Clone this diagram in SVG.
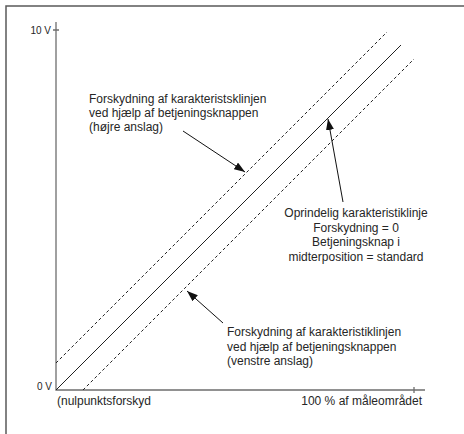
<svg xmlns="http://www.w3.org/2000/svg" width="464" height="434" viewBox="0 0 464 434">
<defs>
<style>
text{font-family:"Liberation Sans",Arial,sans-serif;font-size:12px;fill:#262626}
.lbl{font-size:10px}
.axis{stroke:#6e6e6e;stroke-width:1.3;fill:none}
.dash{stroke:#222;stroke-width:1;stroke-dasharray:3 2.5;fill:none}
.solid{stroke:#222;stroke-width:1;fill:none}
.arr{stroke:#111;stroke-width:1;fill:none;marker-end:url(#ah)}
</style>
<marker id="ah" markerUnits="userSpaceOnUse" markerWidth="12" markerHeight="8" refX="11" refY="4" orient="auto">
<path d="M0,0 L11,4 L0,8 Z" fill="#111"/>
</marker>
</defs>
<rect x="6" y="6" width="500" height="480" fill="none" stroke="#5a5a5a" stroke-width="1.5"/>
<g id="axes">
<path class="axis" d="M56,22 V390 H425"/>
<path class="axis" d="M53,30 H59 M414,387 V393"/>
<text class="lbl" x="51" y="34" text-anchor="end">10 V</text>
<text class="lbl" x="52" y="390" text-anchor="end">0 V</text>
<text x="57" y="405">(nulpunktsforskyd</text>
<text x="422" y="405" text-anchor="end">100 % af måleområdet</text>
</g>
<g id="lines">
<path class="dash" d="M56,363 L387,32"/>
<path class="solid" d="M56,390 L401,45"/>
<path class="dash" d="M83,390 L414,59"/>
</g>
<g id="connectors">
<path class="arr" d="M183,131 L245,172"/>
<path class="arr" d="M223,323 L187,291"/>
<path class="arr" d="M343,202 L328,119"/>
</g>
<g id="label-right">
<text x="89" y="103">Forskydning af karakteristsklinjen</text>
<text x="89" y="117">ved hjælp af betjeningsknappen</text>
<text x="89" y="131">(højre anslag)</text>
</g>
<g id="label-original" text-anchor="middle">
<text x="356" y="217">Oprindelig karakteristiklinje</text>
<text x="356" y="231.5">Forskydning = 0</text>
<text x="356" y="246">Betjeningsknap i</text>
<text x="356" y="260.5">midterposition = standard</text>
</g>
<g id="label-left">
<text x="227" y="336">Forskydning af karakteristiklinjen</text>
<text x="227" y="350.5">ved hjælp af betjeningsknappen</text>
<text x="227" y="365">(venstre anslag)</text>
</g>
</svg>
